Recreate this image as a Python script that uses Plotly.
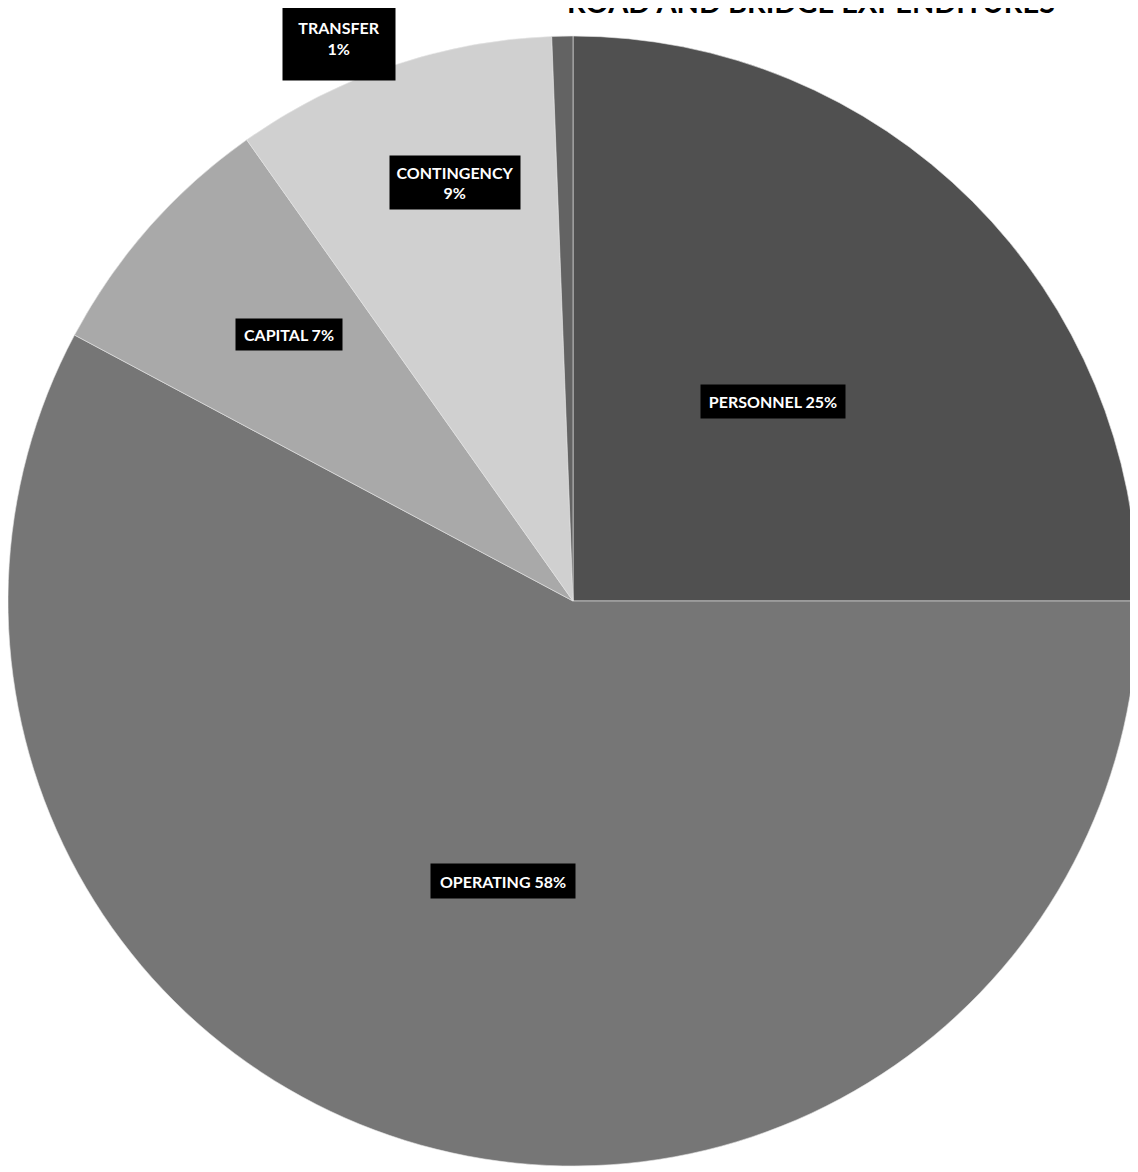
import math
import plotly.graph_objects as go

# ---- data ----
categories = ["PERSONNEL", "OPERATING", "CAPITAL", "CONTINGENCY", "TRANSFER"]
shares = [25.0, 57.8, 7.4, 9.2, 0.6]
label_texts = ["PERSONNEL 25%", "OPERATING 58%", "CAPITAL 7%", "CONTINGENCY<br>9%", "TRANSFER<br>1%"]
title_text = "ROAD AND BRIDGE EXPENDITURES"

# ---- style ----
colors = ["#505050", "#767676", "#a9a9a9", "#d0d0d0", "#636363"]
label_radius = [0.50, 0.51, 0.69, 0.77, 1.08]
label_angle_shift = [0, 0, 1.8, 3, -21.5]  # degrees, clockwise
box_w = [142, 142, 104, 128, 110]
box_h = [31, 32, 29, 51, 82]

W, H = 1130, 1164
dom_x = [0.0, 1.0]
dom_y = [6 / H, 1136 / H]

fig = go.Figure(go.Pie(
    labels=categories,
    values=shares,
    sort=False,
    direction="clockwise",
    rotation=0,
    marker=dict(colors=colors, line=dict(color="#e6e6e6", width=0.6)),
    textinfo="none",
    hoverinfo="label+percent",
    showlegend=False,
    domain=dict(x=dom_x, y=dom_y),
))

# geometry of pie in pixels (for label placement derived from data)
cx = (dom_x[0] + dom_x[1]) / 2 * W
cy_paper = (dom_y[0] + dom_y[1]) / 2
radius = min((dom_x[1] - dom_x[0]) * W, (dom_y[1] - dom_y[0]) * H) / 2
total = sum(shares)
cum = 0.0
annotations = []
for i, v in enumerate(shares):
    mid = (cum + v / 2) / total * 360 + label_angle_shift[i]
    cum += v
    a = math.radians(mid)
    px = cx + label_radius[i] * radius * math.sin(a)
    py = cy_paper * H + label_radius[i] * radius * math.cos(a)
    annotations.append(dict(
        x=px / W, y=py / H, xref="paper", yref="paper",
        text="<b>" + label_texts[i] + "</b>", showarrow=False,
        font=dict(family="Lato, 'Open Sans', sans-serif", size=16, color="white"),
        bgcolor="black", width=box_w[i], height=box_h[i],
        xanchor="center", yanchor="middle", align="center",
    ))

annotations.append(dict(
    x=803 / W, y=1 + 7 / H, xref="paper", yref="paper",
    text="<b>" + title_text + "</b>", showarrow=False,
    font=dict(family="Lato, 'Open Sans', sans-serif", size=29, color="black"),
    xanchor="center", yanchor="middle",
))

fig.update_layout(
    width=W, height=H,
    margin=dict(l=0, r=0, t=0, b=0),
    paper_bgcolor="white", plot_bgcolor="white",
    annotations=annotations,
)

fig.write_html("out.html")
